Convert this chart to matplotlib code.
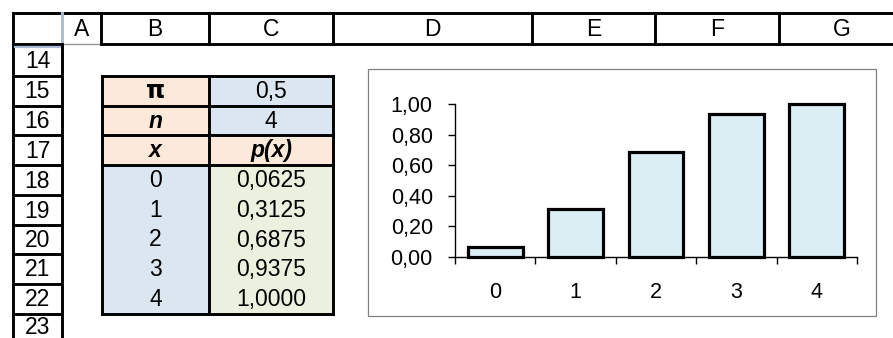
import matplotlib
matplotlib.use("Agg")
import matplotlib.pyplot as plt
from matplotlib.patches import Rectangle

plt.rcParams["font.family"] = ["Liberation Sans", "DejaVu Sans"]

# ---- data ----
pi_value = "0,5"
n_value = "4"
x_values = [0, 1, 2, 3, 4]
p_values = [0.0625, 0.3125, 0.6875, 0.9375, 1.0000]
col_letters = ["A", "B", "C", "D", "E", "F", "G"]
row_numbers = [14, 15, 16, 17, 18, 19, 20, 21, 22, 23]
y_ticks = [0.0, 0.2, 0.4, 0.6, 0.8, 1.0]


def comma(v, nd):
    return f"{v:.{nd}f}".replace(".", ",")


W, H = 893, 338
fig = plt.figure(figsize=(W / 100, H / 100), dpi=100)
bg = fig.add_axes([0, 0, 1, 1])
bg.set_xlim(0, W)
bg.set_ylim(H, 0)
bg.axis("off")

# grid geometry (pixels)
col_edges = [13, 62, 101, 209, 333, 532, 655, 779, 905]
row_edges = [13, 44, 76, 106, 135, 165, 195, 225, 254, 284, 314, 345]
LW = 2.1
FS = 16.5

PEACH = "#FDE9D9"
BLUE = "#DCE6F1"
GREEN = "#EBF1DE"
SEL = "#A9BDD6"

# header row
bg.plot([13, W], [13, 13], color="black", lw=LW, solid_capstyle="butt")
bg.plot([13, 62], [44, 44], color="black", lw=LW, solid_capstyle="butt")
bg.plot([62, 101], [44, 44], color="#9a9a9a", lw=1.0)
bg.plot([101, W], [44, 44], color="black", lw=LW, solid_capstyle="butt")
bg.plot([13, 13], [13, 44], color="black", lw=LW)
bg.plot([62, 62], [13, 44], color=SEL, lw=LW)
for xe in col_edges[2:-1]:
    bg.plot([xe, xe], [13, 44], color="black", lw=LW)
for i, letter in enumerate(col_letters):
    cx = (col_edges[i + 1] + col_edges[i + 2]) / 2
    bg.text(cx, 29.5, letter, ha="center", va="center", fontsize=FS)

# row headers
bg.plot([13, 13], [44, H], color="black", lw=LW)
bg.plot([62, 62], [44, H], color="black", lw=LW)
for ye in row_edges[2:-1]:
    bg.plot([13, 62], [ye, ye], color="black", lw=LW, solid_capstyle="butt")
bg.plot([14, 61], [46.5, 46.5], color=SEL, lw=1.6, solid_capstyle="butt")
for i, r in enumerate(row_numbers):
    cy = (row_edges[i + 1] + row_edges[i + 2]) / 2
    if r == row_numbers[-1]:
        cy = 327
    bg.text(37.5, cy + 1, str(r), ha="center", va="center", fontsize=FS)

# parameter table (B15:C22)
xb0, xb1, xc1 = 102, 209, 333
top, bottom = row_edges[2], row_edges[10]
head_fill = [(PEACH, BLUE), (PEACH, BLUE), (PEACH, PEACH)]
for i, (fb, fc) in enumerate(head_fill):
    y0, y1 = row_edges[2 + i], row_edges[3 + i]
    bg.add_patch(Rectangle((xb0, y0), xb1 - xb0, y1 - y0, color=fb, lw=0))
    bg.add_patch(Rectangle((xb1, y0), xc1 - xb1, y1 - y0, color=fc, lw=0))
y_data0 = row_edges[5]
bg.add_patch(Rectangle((xb0, y_data0), xb1 - xb0, bottom - y_data0, color=BLUE, lw=0))
bg.add_patch(Rectangle((xb1, y_data0), xc1 - xb1, bottom - y_data0, color=GREEN, lw=0))

for ye in [top, row_edges[3], row_edges[4], row_edges[5], bottom]:
    bg.plot([xb0, xc1], [ye, ye], color="black", lw=LW, solid_capstyle="projecting")
for xe in [xb0, xb1, xc1]:
    bg.plot([xe, xe], [top, bottom], color="black", lw=LW, solid_capstyle="projecting")

xb_c = (xb0 + xb1) / 2
xc_c = (xb1 + xc1) / 2
rc = [(row_edges[k] + row_edges[k + 1]) / 2 + 0.5 for k in range(2, 10)]
bg.text(xb_c, rc[0], "π", ha="center", va="center", fontsize=FS + 1,
        fontweight="bold", family=["DejaVu Sans"])
bg.text(xc_c, rc[0], pi_value, ha="center", va="center", fontsize=FS)
bg.text(xb_c, rc[1], "n", ha="center", va="center", fontsize=FS,
        fontweight="bold", style="italic")
bg.text(xc_c, rc[1], n_value, ha="center", va="center", fontsize=FS)
bg.text(xb_c, rc[2], "x", ha="center", va="center", fontsize=FS,
        fontweight="bold", style="italic")
bg.text(xc_c, rc[2], "p(x)", ha="center", va="center", fontsize=FS,
        fontweight="bold", style="italic")
for k, (xv, pv) in enumerate(zip(x_values, p_values)):
    bg.text(xb_c, rc[3 + k], str(xv), ha="center", va="center", fontsize=FS)
    bg.text(xc_c, rc[3 + k], comma(pv, 4), ha="center", va="center", fontsize=FS)

# chart frame
bg.add_patch(Rectangle((368, 69), 876 - 368, 316 - 69, fill=False,
                       edgecolor="#808080", lw=0.9))

# chart
ax = fig.add_axes([455 / W, (H - 257) / H, (857 - 455) / W, (257 - 104) / H])
ax.bar(x_values, p_values, width=0.68, color="#DAEEF3", edgecolor="black",
       linewidth=2.3, zorder=3, clip_on=False)
ax.set_xlim(-0.5, 4.5)
ax.set_ylim(0, 1)
ax.patch.set_alpha(0)
for s in ["top", "right"]:
    ax.spines[s].set_visible(False)
for s in ["left", "bottom"]:
    ax.spines[s].set_linewidth(1.0)
ax.set_yticks(y_ticks, [comma(v, 2) for v in y_ticks])
ax.set_xticks(x_values, [str(v) for v in x_values])
ax.set_xticks([v - 0.5 for v in x_values] + [4.5], minor=True)
ax.tick_params(axis="y", direction="out", length=5, width=1, pad=11, labelsize=15.5)
ax.tick_params(axis="x", which="major", length=0, pad=18, labelsize=15.5)
ax.tick_params(axis="x", which="minor", direction="out", length=5, width=1)

fig.savefig("out.png", dpi=100)
